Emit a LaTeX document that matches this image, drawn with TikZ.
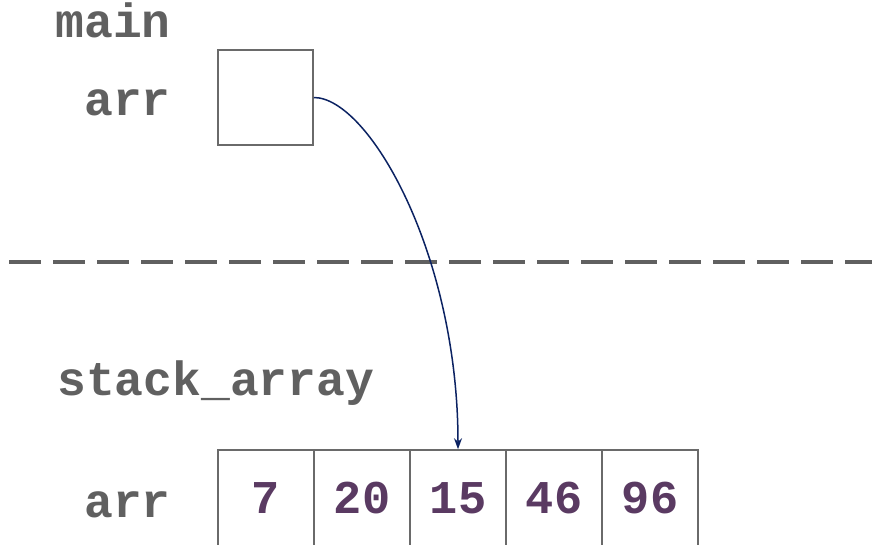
\documentclass[tikz,border=0pt]{standalone}
\usepackage{fontspec}
\setmonofont{Liberation Mono}
\usetikzlibrary{arrows.meta}
\definecolor{labelgray}{HTML}{606060}
\definecolor{framegray}{HTML}{6A6A6A}
\definecolor{valpurple}{HTML}{5A3A62}
\definecolor{ptrblue}{HTML}{0B2262}
\tikzset{
  lbl/.style={font=\fontsize{48}{48}\selectfont\ttfamily\bfseries, text=labelgray, inner sep=0pt},
  cell/.style={draw=framegray, line width=1.6pt, minimum width=96pt, minimum height=96pt, inner sep=0pt,
    font=\fontsize{47}{47}\selectfont\ttfamily\bfseries, text=valpurple},
  ptr/.style={draw=ptrblue, line width=1.5pt, -{Stealth[length=11pt,width=8pt]}},
  divider/.style={draw=labelgray, line width=4pt, dash pattern=on 32pt off 12pt}
}
\begin{document}
\begin{tikzpicture}[x=1pt,y=-1pt]
\useasboundingbox (0,0) rectangle (872,544);
% frame of main
\node[lbl, anchor=base east] (mainlbl) at (171,37) {main};
\node[lbl, anchor=base east] (arrlbl) at (171,115) {arr};
\node[cell, minimum width=95pt, minimum height=95pt] (ptrbox) at (265.5,97.5) {};
% frame separator
\coordinate (sepL) at (9,262);
\coordinate (sepR) at (880,262);
\draw[divider] (sepL) -- (sepR);
% frame of stack_array
\node[lbl, anchor=base west] (fnlbl) at (57,395) {stack\_array};
\node[lbl, anchor=base east] (arrlbl2) at (171,517) {arr};
\foreach \v [count=\i from 0] in {7,20,15,46,96}{
  \node[cell] (c\i) at (266+96*\i,498) {\v};
}
% pointer to third element
\draw[ptr] (ptrbox.east) .. controls +(55,0) and +(0,-195) .. (c2.north);
\end{tikzpicture}
\end{document}
